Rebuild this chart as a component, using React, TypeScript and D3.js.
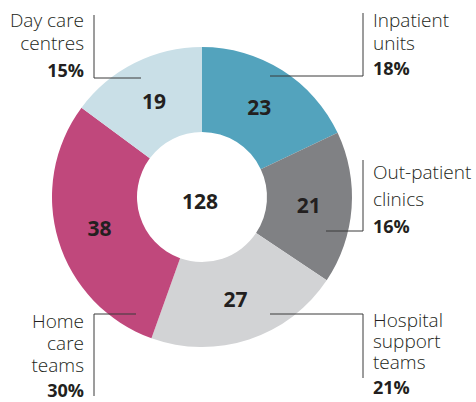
import React from "react";
import * as d3 from "d3";

const categories = ["Inpatient units", "Out-patient clinics", "Hospital support teams", "Home care teams", "Day care centres"];
const values = [23, 21, 27, 38, 19];
const colors = ["#53a3bd", "#808184", "#d2d3d5", "#c0487c", "#c9dfe7"];
const labelLines = [["Inpatient", "units"], ["Out-patient", "clinics"], ["Hospital", "support", "teams"], ["Home", "care", "teams"], ["Day care", "centres"]];

// annotation layout: text anchor x, baselines, leader line path
const labelLayout = [
  { x: 373, anchor: "start", ys: [27, 50, 75], line: [[270, 76], [363, 76], [363, 13]] },
  { x: 373, anchor: "start", ys: [179, 206, 233], line: [[326, 231], [363, 231], [363, 160]] },
  { x: 373, anchor: "start", ys: [327, 348, 369, 394], line: [[270, 314], [363, 314], [363, 378]] },
  { x: 84, anchor: "end", ys: [328, 350, 372, 397], line: [[136, 314], [94, 314], [94, 396]] },
  { x: 84, anchor: "end", ys: [27, 50, 77], line: [[141, 78], [94, 78], [94, 15]] },
];

const W = 476, H = 402;
const cx = 202, cy = 197, outerR = 150, innerR = 65, labelR = 107;

export default function App() {
  const total = d3.sum(values);
  const pie = d3.pie<number>().sort(null).value((d) => d);
  const arcs = pie(values);
  const arc = d3.arc<d3.PieArcDatum<number>>().innerRadius(innerR).outerRadius(outerR);
  const labelArc = d3.arc<d3.PieArcDatum<number>>().innerRadius(labelR).outerRadius(labelR);
  const font = "'Open Sans', 'Noto Sans', sans-serif";
  return (
    <svg width={W} height={H} style={{ position: "absolute", left: 0, top: 0, background: "#fff" }}>
      <g transform={`translate(${cx},${cy})`}>
        {arcs.map((a, i) => (
          <path key={i} d={arc(a) || ""} fill={colors[i]} />
        ))}
        {arcs.map((a, i) => {
          const [x, y] = labelArc.centroid(a);
          return (
            <text key={"v" + i} x={x} y={y} textAnchor="middle" dominantBaseline="central"
              fontFamily={font} fontWeight={700} fontSize={21} fill="#231f20">{values[i]}</text>
          );
        })}
        <text x={-2} y={4} textAnchor="middle" dominantBaseline="central" fontFamily={font}
          fontWeight={700} fontSize={21} fill="#231f20">{total}</text>
      </g>
      {labelLayout.map((l, i) => (
        <g key={"l" + i}>
          <path d={d3.line()(l.line as [number, number][]) || ""} fill="none" stroke="#3a3a3a" strokeWidth={1} />
          {labelLines[i].map((t, j) => (
            <text key={j} x={l.x} y={l.ys[j]} textAnchor={l.anchor as any} fontFamily={font}
              fontWeight={300} fontSize={19} fill="#231f20">{t}</text>
          ))}
          <text x={l.x} y={l.ys[labelLines[i].length]} textAnchor={l.anchor as any} fontFamily={font}
            fontWeight={700} fontSize={18} fill="#231f20">{Math.round((values[i] / total) * 100)}%</text>
        </g>
      ))}
    </svg>
  );
}
